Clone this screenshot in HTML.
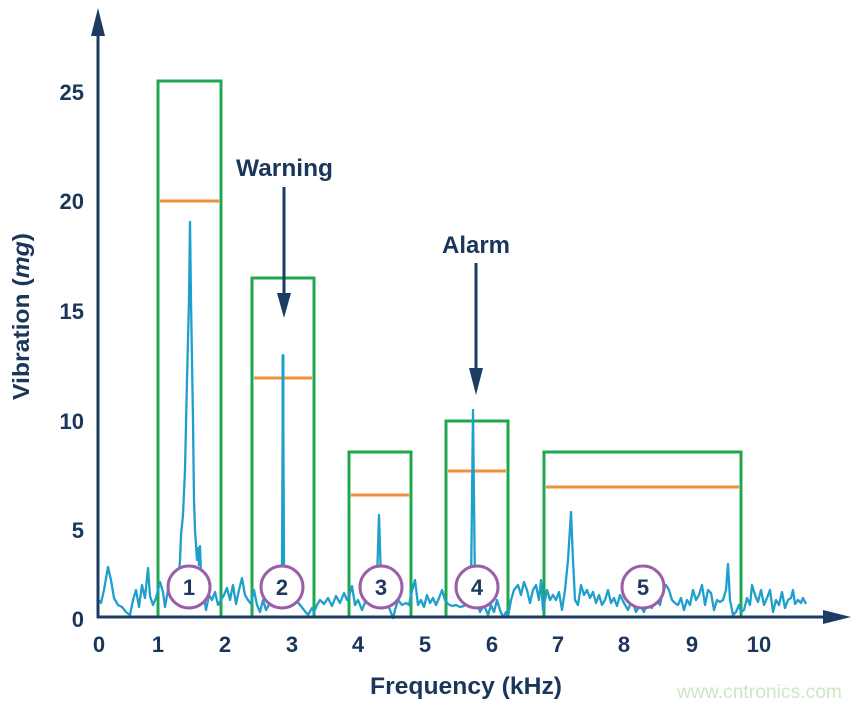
<!DOCTYPE html>
<html><head><meta charset="utf-8"><style>
html,body{margin:0;padding:0;background:#fff;}
svg{display:block;}
text{font-family:"Liberation Sans",Arial,sans-serif;}
</style></head><body>
<svg width="861" height="708" viewBox="0 0 861 708" xmlns="http://www.w3.org/2000/svg">
<rect width="861" height="708" fill="#fff"/>
<!-- green boxes -->
<g fill="none" stroke="#1fa84f" stroke-width="3">
<rect x="158" y="81" width="63" height="536"/>
<rect x="252" y="278" width="62" height="339"/>
<rect x="349" y="452" width="62" height="165"/>
<rect x="446" y="421" width="62" height="196"/>
<rect x="544" y="452" width="197" height="165"/>
</g>
<!-- orange thresholds -->
<g stroke="#f0923a" stroke-width="3">
<line x1="160" y1="201" x2="219" y2="201"/>
<line x1="254" y1="378" x2="312" y2="378"/>
<line x1="351" y1="495" x2="409" y2="495"/>
<line x1="448" y1="471" x2="506" y2="471"/>
<line x1="546" y1="487" x2="739" y2="487"/>
</g>
<!-- signal -->
<polyline fill="none" stroke="#1f9fcc" stroke-width="2.3" stroke-linejoin="round" points="
100,600 101,603 104,590 108,567 111,580 114,598 118,605 122,607 126,612 130,615 133,600 136,590 139,607 142,585 145,598 148,568 150,596 153,605 156,598 158,590
160,582 163,592 165,607 168,590 172,600 176,598 178,585 180,560 181,535 183,515 185,470 187,380 189,300 190,222 191,300 193,420 194,500 195,530 196,545 197,560 198,548 199,565 200,546 201,575 203,590 206,610 209,595 212,600 215,592 218,605 221,600
224,595 227,588 230,600 233,585 236,604 239,590 242,578 245,595 248,600 251,604
254,590 257,605 260,612 263,600 266,610 270,603 274,600 278,597 282,565 283,355 284,565 287,595 290,600 293,593 296,600 300,605 304,610 308,615 312,608 314,612
317,605 320,600 324,604 328,598 332,606 336,596 340,603 344,593 347,600 349,596
352,586 355,605 358,600 362,610 366,600 370,598 374,595 377,580 379,515 381,580 383,592 386,600 390,610 393,618 395,610 398,600 402,605 406,603 409,605 411,595
415,580 418,605 421,600 424,607 427,595 430,603 433,598 436,605 439,598 442,590 445,600
448,604 452,606 456,605 460,607 464,606 468,600 471,590 473,410 475,590 477,600 480,612 484,605 488,615 491,605 494,612 497,600 500,610 503,617 506,612 508,617
511,600 514,590 518,585 521,595 524,582 527,590 530,603 533,590 536,585 539,600 541,580 543,610 544,605
547,590 550,600 553,595 556,600 559,592 562,610 565,590 568,560 571,512 573,560 575,600 578,605 581,585 584,595 587,590 590,598 593,592 596,603 599,595 602,605 605,600 608,590 611,603 614,598 617,606 620,595 624,603 628,610 632,600 636,612 640,605 644,612 648,600 652,608 656,598 660,605 663,590
666,585 669,590 672,600 675,603 678,605 681,598 684,610 687,600 690,605 693,590 696,600 699,595 702,585 705,605 708,590 711,593 714,610 717,600 720,602 723,600 726,590 728,564 730,600 733,615 736,612 739,605 741,612
744,610 747,598 750,605 752,585 755,595 758,602 761,590 764,605 767,598 770,590 773,612 776,600 779,605 782,592 785,608 788,600 791,598 793,590 795,604 798,600 801,603 803,598 806,604"/>
<line x1="283" y1="355" x2="283" y2="566" stroke="#1f9fcc" stroke-width="3"/>
<!-- circles -->
<g fill="#fff" stroke="#9b5fa9" stroke-width="3">
<circle cx="189" cy="587" r="21"/>
<circle cx="282" cy="587" r="21"/>
<circle cx="381" cy="587" r="21"/>
<circle cx="477" cy="587" r="21"/>
<circle cx="643" cy="587" r="21"/>
</g>
<g fill="#1c3a5e" font-size="22" font-weight="bold" text-anchor="middle">
<text x="189" y="595">1</text>
<text x="282" y="595">2</text>
<text x="381" y="595">3</text>
<text x="477" y="595">4</text>
<text x="643" y="595">5</text>
</g>
<!-- axes -->
<g stroke="#1d3c63" stroke-width="3">
<line x1="98" y1="618" x2="98" y2="32"/>
<line x1="97" y1="617" x2="826" y2="617"/>
<line x1="284" y1="187" x2="284" y2="296"/>
<line x1="476" y1="263" x2="476" y2="370"/>
</g>
<g fill="#1d3c63">
<polygon points="98,8 91,36 105,36"/>
<polygon points="851,617 823,610 823,624"/>
<polygon points="284,318 277,293 291,293"/>
<polygon points="476,395 469,368 483,368"/>
</g>
<!-- tick labels -->
<g fill="#1a365a" font-size="22" font-weight="bold" text-anchor="end">
<text x="84" y="100">25</text>
<text x="84" y="209">20</text>
<text x="84" y="319">15</text>
<text x="84" y="429">10</text>
<text x="84" y="538">5</text>
<text x="84" y="627">0</text>
</g>
<g fill="#1a365a" font-size="22" font-weight="bold" text-anchor="middle">
<text x="99" y="652">0</text>
<text x="158" y="652">1</text>
<text x="225" y="652">2</text>
<text x="292" y="652">3</text>
<text x="358" y="652">4</text>
<text x="425" y="652">5</text>
<text x="492" y="652">6</text>
<text x="558" y="652">7</text>
<text x="624" y="652">8</text>
<text x="692" y="652">9</text>
<text x="759" y="652">10</text>
</g>
<g fill="#1a365a" font-weight="bold">
<text x="236" y="176" font-size="24" textLength="97" lengthAdjust="spacingAndGlyphs">Warning</text>
<text x="442" y="253" font-size="24" textLength="68" lengthAdjust="spacingAndGlyphs">Alarm</text>
<text x="370" y="694" font-size="24" textLength="192" lengthAdjust="spacingAndGlyphs">Frequency (kHz)</text>
<text transform="translate(29,400) rotate(-90)" font-size="23" textLength="167" lengthAdjust="spacingAndGlyphs">Vibration (<tspan font-style="italic">mg</tspan>)</text>
</g>
<text x="677" y="698" font-size="19" fill="#cde6c6" textLength="165" lengthAdjust="spacingAndGlyphs">www.cntronics.com</text>
</svg>
</body></html>
